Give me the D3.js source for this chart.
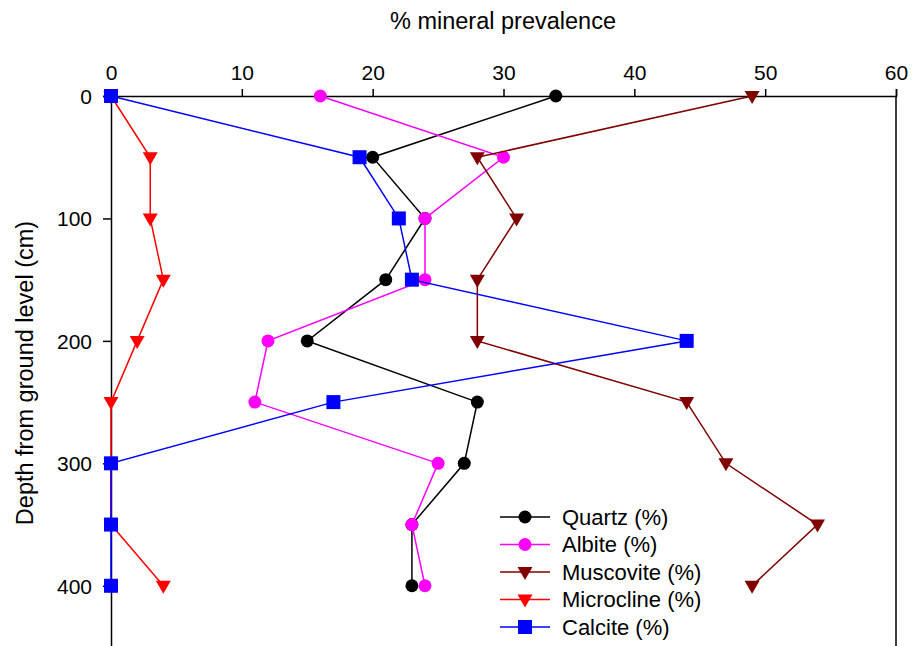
<!DOCTYPE html>
<html>
<head>
<meta charset="utf-8">
<script src="https://cdn.jsdelivr.net/npm/d3@7"></script>
<style>
  body { margin: 0; background: #fff; }
  text { font-family: "Liberation Sans", Arial, sans-serif; }
</style>
</head>
<body>
<svg id="chart" width="912" height="646"></svg>
<script>
const depths = [0, 50, 100, 150, 200, 250, 300, 350, 400];
const quartz = [34, 20, 24, 21, 15, 28, 27, 23, 23];
const albite = [16, 30, 24, 24, 12, 11, 25, 23, 24];
const muscovite = [49, 28, 31, 28, 28, 44, 47, 54, 49];
const microcline = [0, 3, 3, 4, 2, 0, 0, 0, 4];
const calcite = [0, 19, 22, 23, 44, 17, 0, 0, 0];
const xTicks = [0, 10, 20, 30, 40, 50, 60];
const yTicks = [0, 100, 200, 300, 400];

const series = [
    { name: "Quartz (%)", values: quartz, color: "#000000", shape: "circle" },
    { name: "Albite (%)", values: albite, color: "#ff00ff", shape: "circle" },
    { name: "Muscovite (%)", values: muscovite, color: "#800000", shape: "triangle" },
    { name: "Microcline (%)", values: microcline, color: "#ff0000", shape: "triangle" },
    { name: "Calcite (%)", values: calcite, color: "#0000ff", shape: "square" }
];

const svg = d3.select("#chart");
const plotLeft = 111, plotRight = 896, plotTop = 96, plotBottom = 647;

const x = d3.scaleLinear().domain([0, 60]).range([plotLeft, plotRight]);
const y = d3.scaleLinear().domain([0, 450]).range([plotTop, plotBottom]);

// axes
const xAxis = svg.append("g")
    .attr("transform", `translate(0, ${plotTop})`)
    .call(d3.axisTop(x).tickValues(xTicks).tickSizeOuter(0).tickSize(7).tickPadding(9));
const yAxis = svg.append("g")
    .attr("transform", `translate(${plotLeft}, 0)`)
    .call(d3.axisLeft(y).tickValues(yTicks).tickSizeOuter(0).tickSize(8).tickPadding(11));
[xAxis, yAxis].forEach(a => {
    a.selectAll("path, line").attr("stroke", "#000").attr("stroke-width", 1.5);
    a.selectAll("text").attr("font-size", 21).attr("fill", "#000")
        .attr("font-family", "'Liberation Sans', Arial, sans-serif");
});
yAxis.selectAll("text").attr("dy", "0.35em");

// right frame line
svg.append("line")
    .attr("x1", x(60)).attr("x2", x(60))
    .attr("y1", plotTop).attr("y2", plotBottom)
    .attr("stroke", "#000").attr("stroke-width", 1.5);

// titles
svg.append("text")
    .attr("x", 503).attr("y", 29)
    .attr("text-anchor", "middle").attr("font-size", 23.5)
    .text("% mineral prevalence");
svg.append("text")
    .attr("transform", `translate(33, 373) rotate(-90)`)
    .attr("text-anchor", "middle").attr("font-size", 23.5)
    .text("Depth from ground level (cm)");

function drawMarker(g, shape, color, cx, cy) {
    if (shape === "circle") {
        g.append("circle").attr("cx", cx).attr("cy", cy).attr("r", 6.5).attr("fill", color);
    } else if (shape === "square") {
        g.append("rect").attr("x", cx - 7).attr("y", cy - 7)
            .attr("width", 14).attr("height", 14).attr("fill", color);
    } else {
        g.append("path")
            .attr("d", `M${cx - 7.5},${cy - 5}L${cx + 7.5},${cy - 5}L${cx},${cy + 8}Z`)
            .attr("fill", color);
    }
}

const line = d3.line().x(d => x(d[0])).y(d => y(d[1]));

series.forEach(s => {
    const pts = s.values.map((v, i) => [v, depths[i]]);
    const g = svg.append("g");
    g.append("path").datum(pts)
        .attr("d", line)
        .attr("fill", "none")
        .attr("stroke", s.color)
        .attr("stroke-width", 1.5);
    pts.forEach(p => drawMarker(g, s.shape, s.color, x(p[0]), y(p[1])));
});

// legend
const legend = svg.append("g").attr("transform", "translate(500, 517)");
series.forEach((s, i) => {
    const row = legend.append("g").attr("transform", `translate(0, ${i * 27.5})`);
    row.append("line").attr("x1", 0).attr("x2", 50).attr("y1", 0).attr("y2", 0)
        .attr("stroke", s.color).attr("stroke-width", 1.5);
    drawMarker(row, s.shape, s.color, 25, 0);
    row.append("text").attr("x", 62).attr("y", 0).attr("dy", "0.35em")
        .attr("font-size", 22).text(s.name);
});
</script>
</body>
</html>
